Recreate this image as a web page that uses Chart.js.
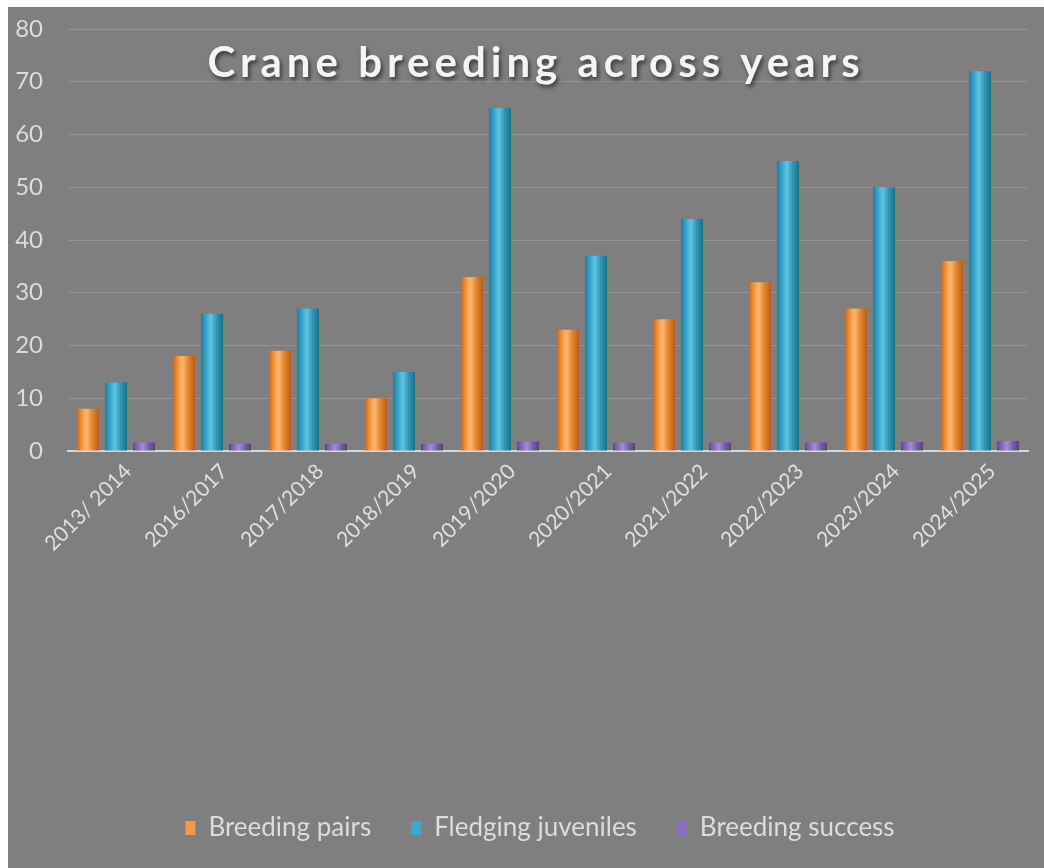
<!DOCTYPE html>
<html>
<head>
<meta charset="utf-8">
<script src="https://cdn.jsdelivr.net/npm/chart.js@4/dist/chart.umd.min.js"></script>
<style>
  html, body { margin: 0; padding: 0; background: #ffffff; }
  #wrap { position: absolute; left: 8px; top: 7px; width: 1036px; height: 861px; background: #7f7f7f; }
  canvas { display: block; }
</style>
</head>
<body>
<div id="wrap"><canvas id="c" width="1036" height="861"></canvas></div>
<script>
const categories = ["2013/ 2014", "2016/2017", "2017/2018", "2018/2019", "2019/2020", "2020/2021", "2021/2022", "2022/2023", "2023/2024", "2024/2025"];
const breedingPairs = [8, 18, 19, 10, 33, 23, 25, 32, 27, 36];
const fledgingJuveniles = [13, 26, 27, 15, 65, 37, 44, 55, 50, 72];
const breedingSuccess = [1.6, 1.4, 1.4, 1.4, 1.8, 1.5, 1.6, 1.6, 1.7, 1.9];
const yTicks = [0, 10, 20, 30, 40, 50, 60, 70, 80];
const titleText = "Crane breeding across years";

const palettes = {
  orange: ["#c9661a", "#f59a45", "#ffb56a", "#e7832c", "#b85d17"],
  blue:   ["#1f7f99", "#39aacb", "#5ec6e2", "#2f98b7", "#1b6f86"],
  purple: ["#5f4a8c", "#8a6cc2", "#a58ad8", "#7b60b0", "#54417c"]
};

function shaded(pal) {
  return function (ctx) {
    const el = ctx.element;
    if (!el || el.x === undefined || !isFinite(el.x) || !el.width) return pal[1];
    const g = ctx.chart.ctx.createLinearGradient(el.x - el.width / 2, 0, el.x + el.width / 2, 0);
    g.addColorStop(0, pal[0]);
    g.addColorStop(0.25, pal[1]);
    g.addColorStop(0.45, pal[2]);
    g.addColorStop(0.7, pal[3]);
    g.addColorStop(1, pal[4]);
    return g;
  };
}

const titlePlugin = {
  id: 'floatTitle',
  afterLayout(chart) {
    if (chart.legend) { chart.legend.left += 20; chart.legend.right += 20; }
  },
  afterDraw(chart) {
    const c = chart.ctx;
    c.save();
    c.font = 'bold 42px Lato, "Open Sans", sans-serif';
    if ('letterSpacing' in c) c.letterSpacing = '5px';
    c.textAlign = 'center';
    c.textBaseline = 'alphabetic';
    c.shadowColor = 'rgba(0,0,0,0.55)';
    c.shadowOffsetX = 2;
    c.shadowOffsetY = 3;
    c.shadowBlur = 4;
    c.fillStyle = '#f4f4f4';
    c.fillText(titleText, 528, 70);
    c.restore();
  }
};

const LEGEND_BOTTOM = 17;
const chart = new Chart(document.getElementById('c'), {
  type: 'bar',
  data: {
    labels: categories,
    datasets: [
      { label: 'Breeding pairs', data: breedingPairs, backgroundColor: shaded(palettes.orange) },
      { label: 'Fledging juveniles', data: fledgingJuveniles, backgroundColor: shaded(palettes.blue) },
      { label: 'Breeding success', data: breedingSuccess, backgroundColor: shaded(palettes.purple) }
    ]
  },
  options: {
    responsive: false,
    animation: false,
    categoryPercentage: 0.875,
    barPercentage: 0.79,
    layout: { padding: { left: 4, right: 16, top: 22, bottom: LEGEND_BOTTOM } },
    plugins: {
      title: { display: false },
      tooltip: { enabled: false },
      legend: {
        position: 'bottom',
        labels: {
          color: '#dcdcdc',
          font: { family: 'Lato, "Open Sans", sans-serif', size: 26 },
          boxWidth: 10,
          boxHeight: 14,
          padding: 40,
          generateLabels(ch) {
            const cols = [palettes.orange[1], palettes.blue[1], palettes.purple[1]];
            return ch.data.datasets.map((d, i) => ({
              text: d.label, fillStyle: cols[i], strokeStyle: cols[i], lineWidth: 0,
              fontColor: '#dcdcdc', datasetIndex: i, hidden: false
            }));
          }
        }
      }
    },
    scales: {
      x: {
        grid: { display: false, drawTicks: false },
        border: { display: true, color: '#d4d8da', width: 2 },
        ticks: {
          color: '#e0e0e0',
          font: { family: 'Lato, "Open Sans", sans-serif', size: 21 },
          minRotation: 45, maxRotation: 45,
          padding: 8,
          labelOffset: 12,
          autoSkip: false
        },
        afterFit(scale) {
          const ch = scale.chart;
          scale.height = ch.height - 444 - (ch.legend ? ch.legend.height : 0) - LEGEND_BOTTOM;
        }
      },
      y: {
        min: 0, max: 80,
        afterBuildTicks(scale) { scale.ticks = yTicks.map(v => ({ value: v })); },
        grid: {
          drawTicks: true,
          tickLength: 25,
          tickColor: 'rgba(0,0,0,0)',
          color: ctx => ctx.tick && ctx.tick.value === 0 ? 'rgba(0,0,0,0)' : 'rgba(255,255,255,0.16)',
          lineWidth: 1
        },
        border: { display: false },
        ticks: {
          color: '#dcdcdc',
          font: { family: 'Lato, "Open Sans", sans-serif', size: 24 },
          padding: 0
        },
        afterFit(scale) { scale.width = 56; }
      }
    }
  },
  plugins: [titlePlugin]
});
chart.update();
</script>
</body>
</html>
